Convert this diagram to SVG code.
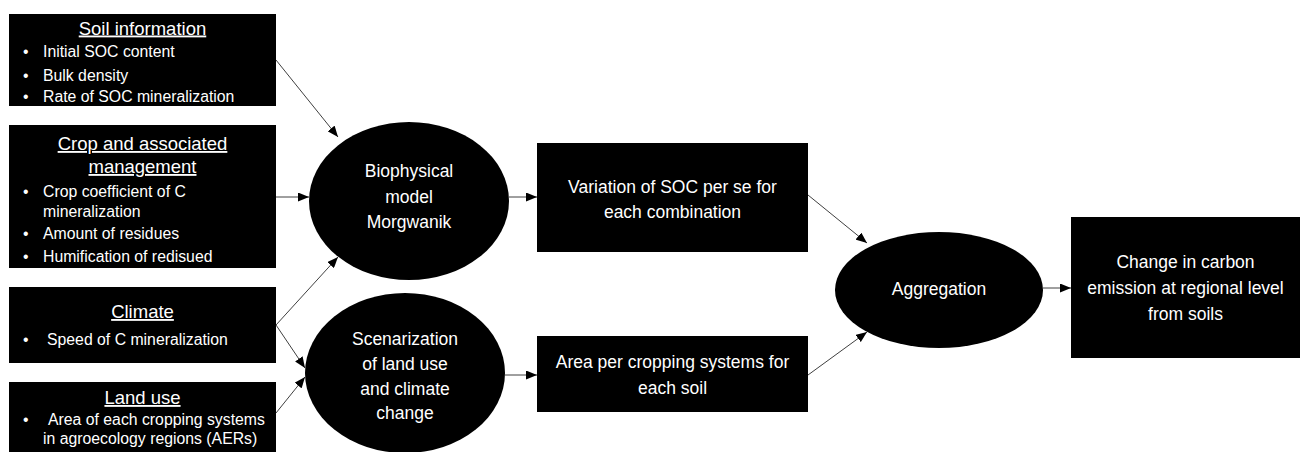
<svg xmlns="http://www.w3.org/2000/svg" width="1303" height="452" viewBox="0 0 1303 452">
<style>
.box{fill:#000;}
.t{fill:#fff;font-family:"Liberation Sans",Arial,sans-serif;}
.title{font-size:18.5px;text-anchor:middle;text-decoration:underline;}
.item{font-size:15.8px;}
.mid{font-size:17.5px;text-anchor:middle;}
.conn{stroke:#404040;stroke-width:1;fill:none;marker-end:url(#ah);}
</style>
<defs>
<marker id="ah" markerUnits="userSpaceOnUse" markerWidth="11" markerHeight="9" refX="11" refY="4.5" orient="auto">
<path d="M0,0 L11,4.5 L0,9 z" fill="#000"/>
</marker>
</defs>
<rect width="1303" height="452" fill="#fff"/>
<g id="soil">
<rect class="box" x="9" y="14" width="267" height="92"/>
<text class="t title" x="142.5" y="34.5">Soil information</text>
<text class="t item" x="23" y="57">•</text><text class="t item" x="43" y="57">Initial SOC content</text>
<text class="t item" x="23" y="81">•</text><text class="t item" x="43" y="81">Bulk density</text>
<text class="t item" x="23" y="102">•</text><text class="t item" x="43" y="102">Rate of SOC mineralization</text>
</g>
<g id="crop">
<rect class="box" x="9" y="125" width="267" height="143"/>
<text class="t title" x="142.5" y="150">Crop and associated</text>
<text class="t title" x="142.5" y="173">management</text>
<text class="t item" x="23" y="197">•</text><text class="t item" x="43" y="197">Crop coefficient of C</text>
<text class="t item" x="43" y="217">mineralization</text>
<text class="t item" x="23" y="239">•</text><text class="t item" x="43" y="239">Amount of residues</text>
<text class="t item" x="23" y="262">•</text><text class="t item" x="43" y="262">Humification of redisued</text>
</g>
<g id="climate">
<rect class="box" x="9" y="287" width="267" height="76"/>
<text class="t title" x="142.5" y="318">Climate</text>
<text class="t item" x="23" y="345">•</text><text class="t item" x="47" y="345">Speed of C mineralization</text>
</g>
<g id="landuse">
<rect class="box" x="9" y="382" width="267" height="72"/>
<text class="t title" x="142.5" y="404">Land use</text>
<text class="t item" x="23" y="425">•</text><text class="t item" x="48" y="425">Area of each cropping systems</text>
<text class="t item" x="43" y="444">in agroecology regions (AERs)</text>
</g>
<g id="biophysical">
<ellipse class="box" cx="409" cy="201" rx="100" ry="79"/>
<text class="t mid" x="409" y="177">Biophysical</text>
<text class="t mid" x="409" y="203">model</text>
<text class="t mid" x="409" y="228">Morgwanik</text>
</g>
<g id="scenarization">
<ellipse class="box" cx="405" cy="373" rx="100" ry="80"/>
<text class="t mid" x="405" y="345">Scenarization</text>
<text class="t mid" x="405" y="370">of land use</text>
<text class="t mid" x="405" y="395">and climate</text>
<text class="t mid" x="405" y="419">change</text>
</g>
<g id="variation">
<rect class="box" x="537" y="143" width="271" height="109"/>
<text class="t mid" x="672.5" y="193">Variation of SOC per se for</text>
<text class="t mid" x="672.5" y="218">each combination</text>
</g>
<g id="area">
<rect class="box" x="537" y="336" width="271" height="76"/>
<text class="t mid" x="672.5" y="368">Area per cropping systems for</text>
<text class="t mid" x="672.5" y="394">each soil</text>
</g>
<g id="aggregation">
<ellipse class="box" cx="939" cy="290" rx="104" ry="58"/>
<text class="t mid" x="939" y="295">Aggregation</text>
</g>
<g id="change">
<rect class="box" x="1071" y="217" width="229" height="141"/>
<text class="t mid" x="1185.5" y="268">Change in carbon</text>
<text class="t mid" x="1185.5" y="294">emission at regional level</text>
<text class="t mid" x="1185.5" y="320">from soils</text>
</g>
<g id="connectors">
<line class="conn" x1="276" y1="60" x2="338" y2="137"/>
<line class="conn" x1="276" y1="197" x2="309" y2="197"/>
<line class="conn" x1="276" y1="325" x2="338" y2="257"/>
<line class="conn" x1="276" y1="325" x2="305" y2="368"/>
<line class="conn" x1="276" y1="413" x2="305" y2="377"/>
<line class="conn" x1="509" y1="197" x2="537" y2="197"/>
<line class="conn" x1="505" y1="375" x2="537" y2="375"/>
<line class="conn" x1="808" y1="195" x2="867" y2="243"/>
<line class="conn" x1="808" y1="375" x2="867" y2="332"/>
<line class="conn" x1="1043" y1="288" x2="1071" y2="288"/>
</g>
</svg>
